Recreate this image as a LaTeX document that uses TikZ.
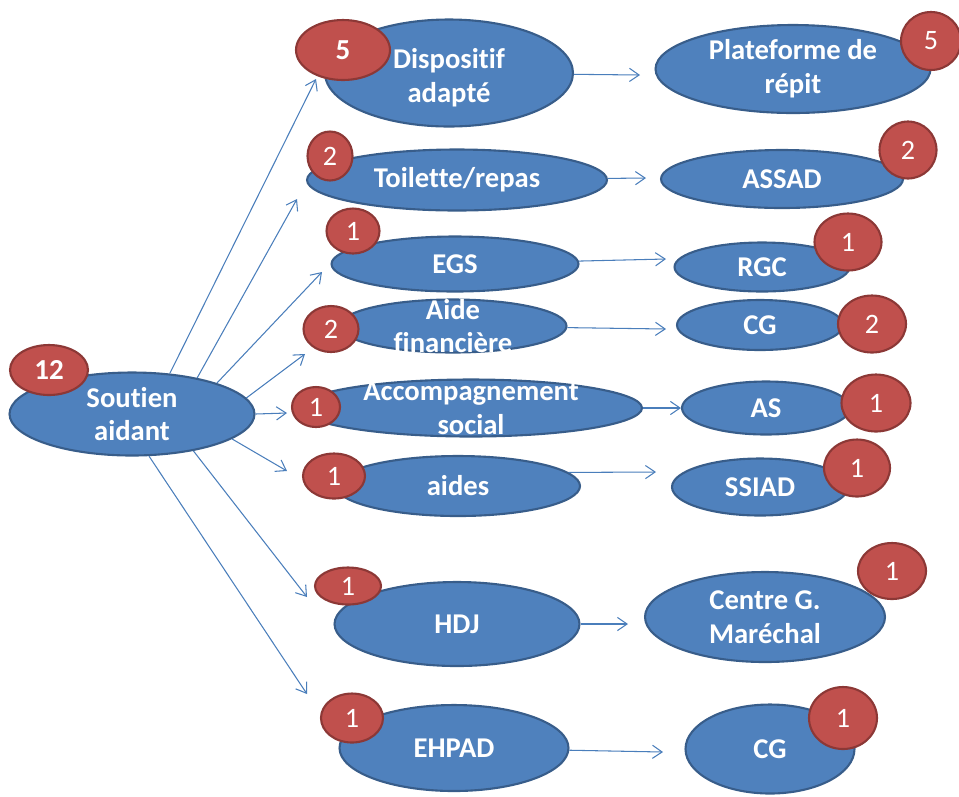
\documentclass[tikz,border=0pt]{standalone}
\usepackage{fontspec}
\setmainfont{Carlito}[Ligatures=NoCommon]
\usepackage{tikz}
\usetikzlibrary{arrows.meta, shapes.geometric}
\definecolor{ovalblue}{HTML}{4F81BD}
\definecolor{ovaledge}{HTML}{385D8A}
\definecolor{badgered}{HTML}{C0504D}
\definecolor{badgeedge}{HTML}{8C3836}
\definecolor{linkblue}{HTML}{4A7EBB}
\tikzset{
	carebox/.style={ellipse, draw=ovaledge, fill=ovalblue, line width=1.2pt, inner sep=0pt, text=white, font=\fontsize{16.3}{19.3}\selectfont\bfseries, align=center},
	caretext/.style={inner sep=0pt, text=white, font=\fontsize{16.3}{19.3}\selectfont\bfseries, align=center},
	countbadge/.style={ellipse, draw=badgeedge, fill=badgered, line width=1.2pt, inner sep=0pt, text=white, font=\fontsize{16}{19}\selectfont},
	linkarr/.style={-{Straight Barb[length=5.5pt, width=7.5pt]}, linkblue, line width=0.6pt},
}

\begin{document}
\begin{tikzpicture}[x=0.02cm, y=-0.02cm]
	\useasboundingbox (0,0) rectangle (959,796);
	% Central node
	\node[carebox, minimum width=4.9cm, minimum height=1.66cm] (soutien) at (132,414) {Soutien\\aidant};
	% Left column: kinds of help
	\node[carebox, minimum width=4.96cm, minimum height=2.14cm] (disp) at (449,73) {};
	\node[caretext] (dispT) at (449,78) {Dispositif\\adapté};
	\node[carebox, minimum width=6cm, minimum height=1.22cm] (toil) at (457,180) {Toilette/repas};
	\node[carebox, minimum width=4.94cm, minimum height=1.1cm] (egs) at (455,264) {EGS};
	\node[carebox, minimum width=4.54cm, minimum height=1.06cm] (aide) at (453,326) {};
	\node[caretext] (aideT) at (aide) {Aide\\financière};
	\node[carebox, minimum width=6.84cm, minimum height=1.14cm] (accomp) at (471,408) {};
	\node[caretext] (accompT) at (accomp) {Accompagnement\\social};
	\node[carebox, minimum width=4.88cm, minimum height=1.2cm] (aides) at (458,486) {aides};
	\node[carebox, minimum width=4.9cm, minimum height=1.68cm] (hdj) at (457,624) {HDJ};
	\node[carebox, minimum width=4.58cm, minimum height=1.72cm] (ehpad) at (454,748) {EHPAD};
	% Right column: providers
	\node[carebox, minimum width=5.5cm, minimum height=1.76cm] (plat) at (793,69) {Plateforme de\\répit};
	\node[carebox, minimum width=4.84cm, minimum height=1.16cm] (assad) at (782,179) {ASSAD};
	\node[carebox, minimum width=3.5cm, minimum height=0.98cm] (rgc) at (762,267) {RGC};
	\node[carebox, minimum width=3.32cm, minimum height=1cm] (cg) at (760,325) {CG};
	\node[carebox, minimum width=3.36cm, minimum height=1.06cm] (as) at (766,408) {AS};
	\node[carebox, minimum width=3.52cm, minimum height=1.14cm] (ssiad) at (760,487) {SSIAD};
	\node[carebox, minimum width=4.8cm, minimum height=1.8cm] (centre) at (765,617) {Centre G.\\Maréchal};
	\node[carebox, minimum width=3.38cm, minimum height=1.78cm] (cgb) at (770,749) {CG};
	% Counts
	\node[countbadge, minimum width=1.56cm, minimum height=1cm, font=\fontsize{16.5}{19}\selectfont\bfseries] (nSoutien) at (49,370) {12};
	\node[countbadge, minimum width=1.88cm, minimum height=1.2cm, font=\fontsize{16.5}{19}\selectfont\bfseries] (nDisp) at (343,50) {5};
	\node[countbadge, minimum width=0.9cm, minimum height=0.98cm] (nToil) at (330,156) {2};
	\node[countbadge, minimum width=1.06cm, minimum height=0.9cm] (nEgs) at (353,231) {1};
	\node[countbadge, minimum width=1.1cm, minimum height=0.92cm] (nAide) at (331,329) {2};
	\node[countbadge, minimum width=0.96cm, minimum height=0.8cm] (nAccomp) at (316,407) {1};
	\node[countbadge, minimum width=1.24cm, minimum height=0.9cm] (nAides) at (334,476) {1};
	\node[countbadge, minimum width=1.32cm, minimum height=0.74cm] (nHdj) at (348,586) {1};
	\node[countbadge, minimum width=1.24cm, minimum height=0.98cm] (nEhpad) at (352,718) {1};
	\node[countbadge, minimum width=1.2cm, minimum height=1.16cm] (nPlat) at (931,41) {5};
	\node[countbadge, minimum width=1.14cm, minimum height=1.14cm] (nAssad) at (908,150) {2};
	\node[countbadge, minimum width=1.34cm, minimum height=1.14cm] (nRgc) at (848,242) {1};
	\node[countbadge, minimum width=1.36cm, minimum height=1.14cm] (nCg) at (872,324) {2};
	\node[countbadge, minimum width=1.38cm, minimum height=1.14cm] (nAs) at (876,403) {1};
	\node[countbadge, minimum width=1.32cm, minimum height=1.14cm] (nSsiad) at (857,468) {1};
	\node[countbadge, minimum width=1.36cm, minimum height=1.12cm] (nCentre) at (892,571) {1};
	\node[countbadge, minimum width=1.36cm, minimum height=1.24cm] (nCgb) at (843,718) {1};
	% Arrow tips
	\coordinate (tDisp) at (316,79);
	\coordinate (tToil) at (297,199);
	\coordinate (tEgs) at (322,272);
	\coordinate (tAide) at (305,354);
	\coordinate (tAccomp) at (287,413);
	\coordinate (tAides) at (287,471);
	\coordinate (tHdj) at (307,597);
	\coordinate (tEhpad) at (307,694);
	\coordinate (tPlat) at (640,75);
	\coordinate (tAssad) at (646,178);
	\coordinate (tRgc) at (666,259);
	\coordinate (tCg) at (666,329);
	\coordinate (tSsiad) at (656,472);
	\coordinate (tCentre) at (628,624);
	\coordinate (tCgb) at (663,752);
	% Arrows
	\draw[linkarr] (soutien.47) -- (tDisp);
	\draw[linkarr] (soutien.29) -- (tToil);
	\draw[linkarr] (soutien.20) -- (tEgs);
	\draw[linkarr] (soutien.8) -- (tAide);
	\draw[linkarr] (soutien.east) -- (tAccomp);
	\draw[linkarr] (soutien.-14) -- (tAides);
	\draw[linkarr] (soutien.-31) -- (tHdj);
	\draw[linkarr] (soutien.-68) -- (tEhpad);
	\draw[linkarr] (disp) -- (tPlat);
	\draw[linkarr] (toil) -- (tAssad);
	\draw[linkarr] (egs) -- (tRgc);
	\draw[linkarr] (aide) -- (tCg);
	\draw[linkarr] (accomp) -- (as);
	\draw[linkarr] (aides.7) -- (tSsiad);
	\draw[linkarr] (hdj) -- (tCentre);
	\draw[linkarr] (ehpad) -- (tCgb);
\end{tikzpicture}
\end{document}
